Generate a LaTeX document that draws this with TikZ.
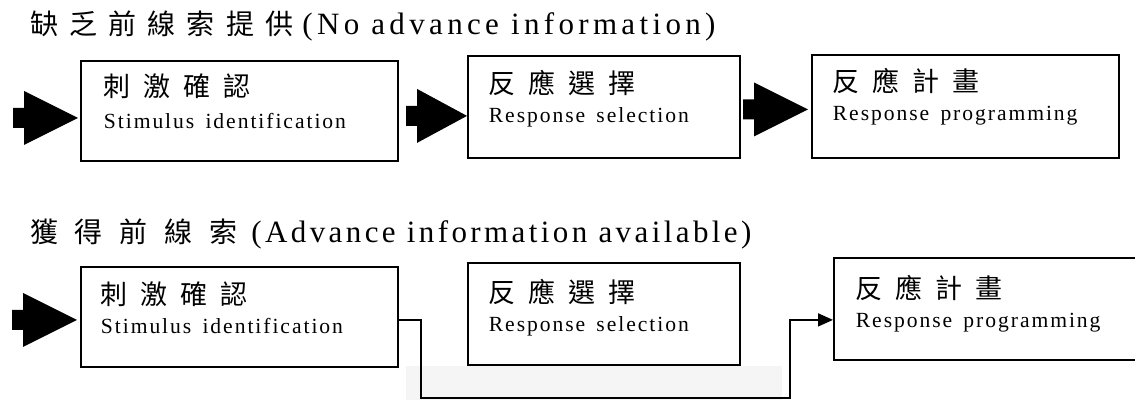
\documentclass[tikz,border=0pt]{standalone}
\usepackage{fontspec}
\setmainfont{Liberation Serif}
\newfontfamily\cjkTa[LetterSpace=40]{Noto Sans CJK TC}
\newfontfamily\cjkTb[LetterSpace=60]{Noto Sans CJK TC}
\newfontfamily\latTa[LetterSpace=14]{Liberation Serif}
\newfontfamily\latTb[LetterSpace=11]{Liberation Serif}
\newfontfamily\cjkB[LetterSpace=48]{Noto Sans CJK TC}
\newfontfamily\latB[LetterSpace=9]{Liberation Serif}
\usetikzlibrary{arrows.meta,calc}
\tikzset{
  stage/.style={draw, line width=1.8pt, anchor=north west, inner xsep=21pt,
    inner ysep=0pt, align=left, font=\fontsize{21.6}{29}\selectfont},
  ttl/.style={anchor=base west, inner sep=0pt},
  conn/.style={line width=1.6pt, -{Triangle[length=15pt,width=13pt]}},
  pics/blockarrow/.style={code={%
    \fill[black] (0,0) -- (-#1,-27) -- (-#1,-10) -- (-#1-11,-10) -- (-#1-11,10)
      -- (-#1,10) -- (-#1,27) -- cycle;}}
}
\newcommand{\cj}[1]{{\cjkB\fontsize{27}{27}\selectfont #1}}
\newcommand{\wsp}{\ \hspace{4pt}}
\begin{document}
\begin{tikzpicture}[x=1pt,y=-1pt]
\useasboundingbox (0,0) rectangle (1135,400);
% faint watermark area
\fill[black!4] (406,366) rectangle (782,400);

% titles
\node[ttl] (t1) at (30,34) {{\cjkTa\fontsize{28}{28}\selectfont 缺乏前線索提供}\hspace{9pt}{\latTa\fontsize{31}{31}\selectfont (No advance information)}};
\node[ttl] (t2) at (30,242) {{\cjkTb\fontsize{28}{28}\selectfont 獲得前線索}\hspace{14pt}{\latTb\fontsize{31}{31}\selectfont (Advance information available)}};

% row 1
\node[stage, inner xsep=23pt, text width=271pt, text height=36pt, text depth=64pt,
  font=\fontsize{21.6}{32}\selectfont] (b1) at (80,60)
  {\cj{刺激確認}\\{\latB Stimulus\wsp identification}};
\node[stage, text width=230pt, text height=38pt, text depth=64pt] (b2) at (467,55)
  {\cj{反應選擇}\\{\latB Response\wsp selection}};
\node[stage, text width=265pt, text height=37pt, text depth=66pt] (b3) at (811,54)
  {\cj{反應計畫}\\{\latB Response\wsp programming}};

\pic at ($(b1.west)+(-2,7)$) {blockarrow=54};
\pic at ($(b2.west)+(0,9)$) {blockarrow=50};
\pic at ($(b3.west)+(-3,3)$) {blockarrow=54};

% row 2
\node[stage, inner xsep=20pt, text width=277pt, text height=38pt, text depth=62pt] (c1) at (80,266)
  {\cj{刺激確認}\\{\latB Stimulus\wsp identification}};
\node[stage, text width=230pt, text height=40pt, text depth=62pt] (c2) at (467,262)
  {\cj{反應選擇}\\{\latB Response\wsp selection}};
\node[stage, inner xsep=22pt, text width=263pt, text height=41pt, text depth=61pt] (c3) at (833,257)
  {\cj{反應計畫}\\{\latB Response\wsp programming}};

\pic at ($(c1.west)+(-3,3)$) {blockarrow=54};

\coordinate (j1) at (421,398);
\coordinate (j2) at (790,398);
\draw[conn] ([yshift=-3pt]c1.east) -| (j1) -- (j2) |- ([yshift=-11pt]c3.west);
\end{tikzpicture}
\end{document}
